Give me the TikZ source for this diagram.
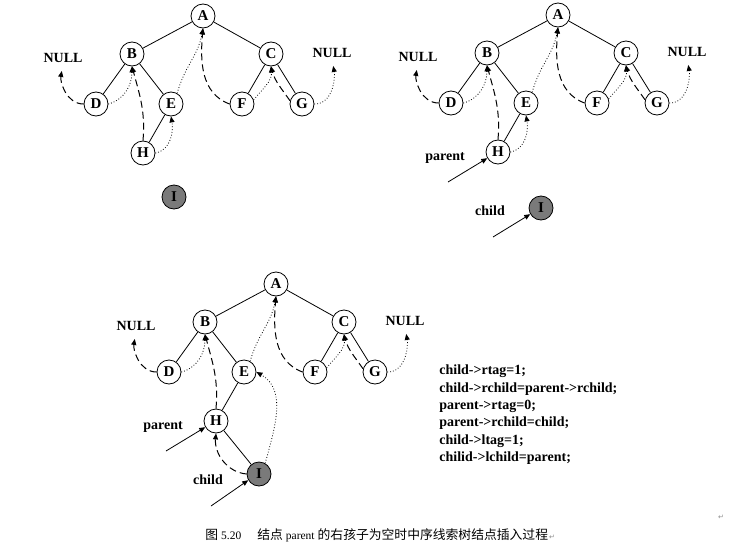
\documentclass[tikz,border=0pt]{standalone}
\usepackage{fontspec}
\setmainfont{Liberation Serif}
\newfontfamily\cjk{Noto Sans CJK SC}
\newfontfamily\markfont{DejaVu Sans}
\usetikzlibrary{arrows.meta}

\newcommand{\basetree}{%
\node[vertex] (A) at (0,0) {A};
\node[vertex] (B) at (-71,-38) {B};
\node[vertex] (C) at (68,-38) {C};
\node[vertex] (D) at (-107,-88) {D};
\node[vertex] (E) at (-32,-88) {E};
\node[vertex] (F) at (39,-88) {F};
\node[vertex] (G) at (99,-88) {G};
\node[vertex] (H) at (-60,-137) {H};
\node[lbl] (nullL) at (-140,-42) {NULL};
\node[lbl] (nullR) at (129,-37) {NULL};
\draw (A) -- (B) (A) -- (C) (B) -- (D) (B) -- (E) (C) -- (F) (C) -- (G) (E) -- (H);
\draw[lthread,shorten >=7pt] (D.west) to[out=180,in=-100] (nullL.south);
\draw[rthread] (D.east) to[out=15,in=-90] (B.south);
\draw[lthread] (H.north) to[out=85,in=-75] (B.south);
\draw[rthread] (E.60) to[out=75,in=-100] (A.south);
\draw[lthread] (F.west) to[out=160,in=-95] (A.south);
\draw[rthread] (F.20) to[out=50,in=-85] (C.south);
\draw[lthread] (G.165) to[out=125,in=-75] (C.south);
\draw[rthread,shorten >=7pt] (G.east) to[out=0,in=-80] (nullR.south);
}

\newcommand{\pointers}{%
\node[lbl] (parent) at (-113,-143) {parent};
\coordinate (pstart) at (-110,-167);
\draw[ptr] (pstart) -- (H.210);
\node[lbl] (child) at (-68,-196) {child};
\coordinate (cstart) at (-65,-222);
\draw[ptr] (cstart) -- (I.210);
}

\begin{document}
\begin{tikzpicture}[x=1pt,y=1pt,line width=0.8pt,>={Triangle[length=6pt,width=5pt]},
  vertex/.style={circle,draw,fill=white,minimum size=24pt,inner sep=0pt,font=\fontsize{15}{17}\bfseries},
  newnode/.style={vertex,fill=black!52},
  lbl/.style={inner sep=1pt,font=\fontsize{14}{16}\bfseries},
  lthread/.style={->,line width=1pt,dash pattern=on 7pt off 4pt},
  rthread/.style={->,dotted},
  ptr/.style={->}]
\useasboundingbox (0,0) rectangle (746,-554);

% tree before insertion
\begin{scope}[shift={(203,-16)},name prefix=a-]
\basetree
\draw[rthread] (H.east) to[out=10,in=-80] (E.south);
\node[newnode] (I) at (-29,-181) {I};
\end{scope}

% parent and child pointers set
\begin{scope}[shift={(558,-15)},name prefix=b-]
\basetree
\draw[rthread] (H.east) to[out=10,in=-80] (E.south);
\node[newnode] (I) at (-17,-193) {I};
\pointers
\end{scope}

% tree after insertion
\begin{scope}[shift={(276,-284)},name prefix=c-]
\basetree
\node[newnode] (I) at (-17,-190) {I};
\draw (H) -- (I);
\draw[lthread] (I.west) to[out=175,in=-95] (H.south);
\draw[rthread] (I.60) to[out=75,in=-30] (E.east);
\pointers
\end{scope}

\node[anchor=north west,inner sep=0pt,align=left,font=\fontsize{14}{17.4}\bfseries] (code) at (439,-364.5)
{child->rtag=1;\\child->rchild=parent->rchild;\\parent->rtag=0;\\parent->rchild=child;\\child->ltag=1;\\chilid->lchild=parent;};

\node[anchor=base west,inner sep=0pt,font=\fontsize{11.5}{14}\selectfont] (caption) at (205,-539)
{{\cjk\fontsize{12.8}{14}\selectfont 图}\hspace{3pt}5.20\hspace{16pt}{\cjk\fontsize{12.8}{14}\selectfont 结点}\hspace{3pt}parent\hspace{3pt}{\cjk\fontsize{12.8}{14}\selectfont 的右孩子为空时中序线索树结点插入过程}\hspace{1pt}{\markfont\fontsize{7}{8}\selectfont\color{black!45}↵}};
\node[inner sep=0pt,font=\markfont\fontsize{7}{8}\selectfont,text=black!45] (mark) at (721,-517) {↵};
\end{tikzpicture}
\end{document}
